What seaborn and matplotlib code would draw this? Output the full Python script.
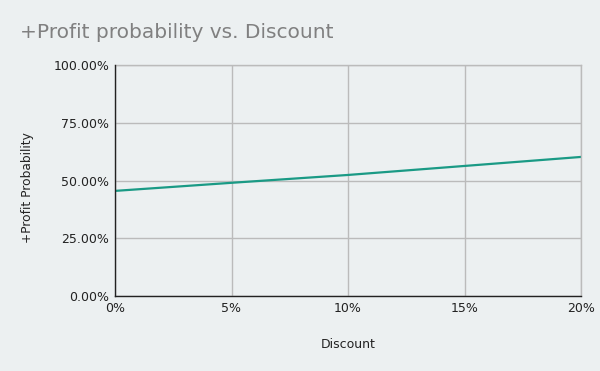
import matplotlib
matplotlib.use("Agg")
import matplotlib.pyplot as plt
import seaborn as sns
import pandas as pd
from matplotlib.ticker import FuncFormatter

discount = [0.0, 0.05, 0.10, 0.15, 0.20]
profit_prob = [0.455, 0.490, 0.524, 0.563, 0.602]

BG = "#ECF0F1"
sns.set_theme(style="whitegrid")
plt.rcParams['font.family'] = ['DejaVu Sans']

fig = plt.figure(figsize=(6, 3.71), dpi=100, facecolor=BG)
ax = fig.add_axes([115/600, 1-296/371, (581-115)/600, (296-65)/371])
ax.set_facecolor(BG)

df = pd.DataFrame({"Discount": discount, "Prob": profit_prob})
sns.lineplot(data=df, x="Discount", y="Prob", ax=ax, color="#1a9a85", linewidth=1.6)

ax.set_xlim(0, 0.20)
ax.set_ylim(0, 1.0)
ax.set_xticks([0, 0.05, 0.10, 0.15, 0.20])
ax.set_yticks([0, 0.25, 0.5, 0.75, 1.0])
ax.xaxis.set_major_formatter(FuncFormatter(lambda v, p: f"{v*100:.0f}%"))
ax.yaxis.set_major_formatter(FuncFormatter(lambda v, p: f"{v*100:.2f}%"))
ax.tick_params(axis='both', labelsize=9, colors="#222222", length=0, pad=4)
ax.grid(True, color="#bbbbbb", linewidth=1)
for s in ["top", "right"]:
    ax.spines[s].set_visible(True)
    ax.spines[s].set_color("#bbbbbb")
    ax.spines[s].set_linewidth(1)
for s in ["left", "bottom"]:
    ax.spines[s].set_color("#222222")
    ax.spines[s].set_linewidth(1)
    ax.spines[s].set_zorder(3)
ax.set_xlabel("Discount", fontsize=9, color="#222222")
ax.set_ylabel("+Profit Probability", fontsize=8.8, color="#222222")
ax.yaxis.set_label_coords(-(115-34)/466, 0.47)
ax.xaxis.set_label_coords(0.5, -(344-296)/231)
ax.xaxis.label.set_va("center")

fig.text(20/600, 1-33/371, "+Profit probability vs. Discount", fontsize=14.5,
         color="#808080", va="center", ha="left")

fig.savefig("out.png", dpi=100, facecolor=BG)
